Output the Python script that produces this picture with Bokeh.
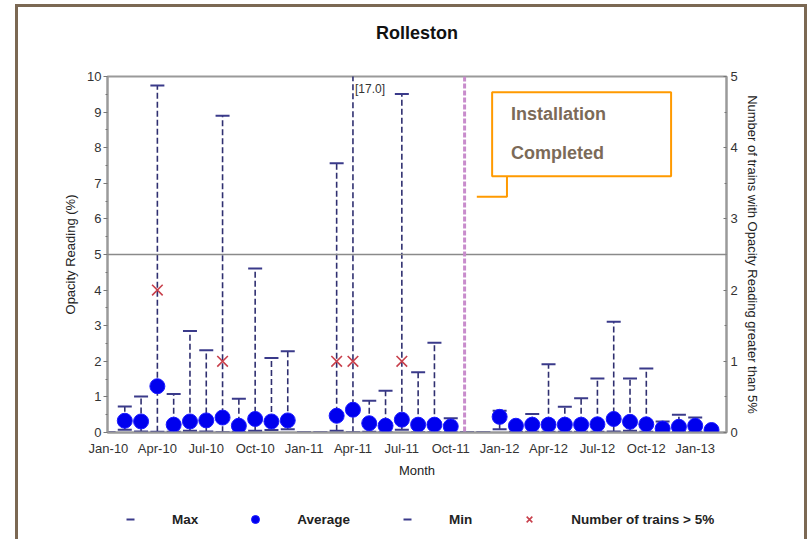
from bokeh.plotting import figure
from bokeh.layouts import column
from bokeh.models import (Range1d, LinearAxis, FixedTicker, Span, BoxAnnotation, Label,
                          Legend, LegendItem, ColumnDataSource, Title)
from bokeh.core.properties import value
from bokeh.embed import file_html
from bokeh.resources import INLINE

FONT = "Liberation Sans"

# Monthly opacity readings at Rolleston (%), None where no trains were recorded
months = ["Jan-10", "Feb-10", "Mar-10", "Apr-10", "May-10", "Jun-10", "Jul-10", "Aug-10",
          "Sep-10", "Oct-10", "Nov-10", "Dec-10", "Jan-11", "Feb-11", "Mar-11", "Apr-11",
          "May-11", "Jun-11", "Jul-11", "Aug-11", "Sep-11", "Oct-11", "Nov-11", "Dec-11",
          "Jan-12", "Feb-12", "Mar-12", "Apr-12", "May-12", "Jun-12", "Jul-12", "Aug-12",
          "Sep-12", "Oct-12", "Nov-12", "Dec-12", "Jan-13", "Feb-13"]
max_reading = [0.0, 0.73, 1.01, 9.75, 1.08, 2.85, 2.31, 8.90, 0.95, 4.61, 2.09, 2.28,
               0.0, 0.0, 7.56, 17.0, 0.89, 1.17, 9.51, 1.69, 2.52, 0.40, 0.0, 0.0,
               0.61, 0.25, 0.52, 1.92, 0.72, 0.96, 1.52, 3.11, 1.52, 1.80, 0.31, 0.50,
               0.42, 0.12]
avg_reading = [None, 0.33, 0.31, 1.30, 0.22, 0.31, 0.34, 0.42, 0.19, 0.38, 0.31, 0.34,
               None, None, 0.47, 0.64, 0.26, 0.19, 0.36, 0.22, 0.22, 0.17, None, None,
               0.44, 0.19, 0.22, 0.22, 0.22, 0.22, 0.23, 0.38, 0.30, 0.23, 0.11, 0.16,
               0.19, 0.07]
min_reading = [0.0, 0.08, 0.03, 0.02, 0.02, 0.05, 0.03, 0.01, 0.02, 0.05, 0.07, 0.09,
               0.0, 0.0, 0.05, 0.01, 0.02, 0.01, 0.08, 0.01, 0.01, 0.01, 0.0, 0.0,
               0.09, 0.02, 0.02, 0.02, 0.02, 0.02, 0.02, 0.03, 0.05, 0.02, 0.01, 0.02,
               0.02, 0.01]
trains_over_5 = [0, 0, 0, 2, 0, 0, 0, 1, 0, 0, 0, 0,
                 0, 0, 1, 1, 0, 0, 1, 0, 0, 0, 0, 0,
                 0, 0, 0, 0, 0, 0, 0, 0, 0, 0, 0, 0,
                 0, 0]
tick_labels = ["Jan-10", "Apr-10", "Jul-10", "Oct-10", "Jan-11", "Apr-11", "Jul-11",
               "Oct-11", "Jan-12", "Apr-12", "Jul-12", "Oct-12", "Jan-13"]
legend_labels = ["Max", "Average", "Min", "Number of trains > 5%"]
installation_month = 21.85   # filter installation completed, early Nov-11

Y_MAX = 10
x = list(range(len(months)))
src = ColumnDataSource(dict(
    x=x, mx=max_reading, mn=min_reading,
    avg=[float("nan") if v is None else v for v in avg_reading],
))
cnt_x = [i for i, c in zip(x, trains_over_5) if c > 0]
cnt_y = [c for c in trains_over_5 if c > 0]

# marker styles shared by the chart and its key
MAX_STYLE = dict(marker="dash", size=14, line_color="#3a3a8a", line_width=2)
MIN_STYLE = dict(marker="dash", size=14, line_color="#3a3a8a", line_width=2)
AVG_STYLE = dict(marker="circle", size=15, fill_color="#0000ee", line_color="#1a1aff", line_width=1)
CNT_STYLE = dict(marker="x", size=15, line_color="#c8404c", line_width=1.6)

chart = figure(width=810, height=500, output_backend="svg", toolbar_location=None,
               x_range=Range1d(-0.06, 37.92), y_range=Range1d(0, Y_MAX),
               min_border_left=107, min_border_right=84, min_border_top=76,
               min_border_bottom=68)
chart.extra_y_ranges = {"trains": Range1d(0, 5)}
chart.background_fill_color = "white"
chart.border_fill_alpha = 0
chart.outline_line_color = "#9a9a9a"
chart.outline_line_width = 2
chart.xgrid.visible = False
chart.ygrid.visible = False

# title, held away from the frame by an empty spacer row
chart.add_layout(Title(text=" ", text_font_size="13px", standoff=17), "above")
chart.add_layout(Title(text="Rolleston", align="center", text_font=FONT,
                       text_font_size="18px", text_font_style="bold",
                       text_color="#111111", standoff=0), "above")

# axes
xa = chart.xaxis[0]
xa.ticker = FixedTicker(ticks=[months.index(t) for t in tick_labels])
xa.major_label_overrides = {months.index(t): t for t in tick_labels}
xa.axis_label = "Month"
xa.major_tick_in = 0
xa.major_tick_out = 0
xa.minor_tick_out = 0
xa.major_label_standoff = 8

ya = chart.yaxis[0]
ya.ticker = FixedTicker(ticks=list(range(0, 11)), minor_ticks=[i + 0.5 for i in range(10)])
ya.axis_label = "Opacity Reading (%)"
ya.major_tick_in = 0
ya.major_tick_out = 4
ya.minor_tick_in = 0
ya.minor_tick_out = 2
ya.major_label_standoff = 2
ya.axis_label_standoff = 6

ra = LinearAxis(y_range_name="trains",
                ticker=FixedTicker(ticks=list(range(0, 6)), minor_ticks=[i + 0.5 for i in range(5)]),
                axis_label="Number of trains with Opacity Reading greater than 5%")
ra.major_tick_in = 3
ra.major_tick_out = 0
ra.minor_tick_in = 2
ra.minor_tick_out = 0
ra.major_label_standoff = 4
ra.axis_label_standoff = 4
chart.add_layout(ra, "right")

for ax in (xa, ya, ra):
    ax.axis_line_color = "#9a9a9a"
    ax.axis_line_width = 2
    ax.major_tick_line_color = "#777777"
    ax.minor_tick_line_color = "#777777"
    ax.major_label_text_font = FONT
    ax.major_label_text_font_size = "13px"
    ax.major_label_text_color = "#333333"
    ax.axis_label_text_font = FONT
    ax.axis_label_text_font_size = "13px"
    ax.axis_label_text_font_style = "normal"
    ax.axis_label_text_color = "#222222"
xa.axis_label_standoff = 4

# 5 % threshold line
chart.add_layout(Span(location=5, dimension="width", line_color="#8a8a8a", line_width=1.5))

# installation marker
chart.add_layout(Span(location=installation_month, dimension="height", line_color="#c88ccc",
                      line_dash="5 2", line_width=3))

# range from min to max for each month
chart.segment(x0="x", y0="mn", x1="x", y1="mx", source=src, line_color="#2f2f70",
              line_dash="6 3", line_width=1.6)
chart.scatter("x", "mx", source=src, **MAX_STYLE)
chart.scatter("x", "mn", source=src, **MIN_STYLE)
chart.scatter("x", "avg", source=src, **AVG_STYLE)
chart.scatter(cnt_x, cnt_y, y_range_name="trains", **CNT_STYLE)

# values that run off the top of the axis
off_x = [i for i, v in zip(x, max_reading) if v > Y_MAX]
off_t = [f"[{v:.1f}]" for v in max_reading if v > Y_MAX]
chart.text(x=off_x, y=[Y_MAX] * len(off_x), text=off_t, x_offset=2, y_offset=5,
           text_baseline="top", text_font=value(FONT), text_font_size="12px",
           text_color="#333333")

# callout box
chart.add_layout(BoxAnnotation(left=23.54, right=34.52, bottom=7.20, top=9.56,
                               fill_color="white", fill_alpha=1.0,
                               line_color="#ff9a00", line_alpha=1.0, line_width=2))
chart.line([24.45, 24.45, 22.6], [7.20, 6.62, 6.62], line_color="#ff9a00", line_width=2)
for txt, yy in (("Installation", 8.96), ("Completed", 7.84)):
    chart.add_layout(Label(x=24.7, y=yy, text=txt, text_baseline="middle",
                           text_font=FONT, text_font_size="18px", text_font_style="bold",
                           text_color="#7b6a58"))

# key row underneath the chart; its sample glyphs sit outside the visible range
key = figure(width=810, height=39, output_backend="svg", toolbar_location=None,
             x_range=Range1d(0, 1), y_range=Range1d(0, 1),
             min_border_left=107, min_border_right=20, min_border_top=0,
             min_border_bottom=0, x_axis_location=None, y_axis_location=None)
key.outline_line_color = None
key.background_fill_alpha = 0
key.border_fill_alpha = 0
key.xgrid.visible = False
key.ygrid.visible = False
key_renderers = [key.scatter([-5], [-5], **s)
                 for s in (MAX_STYLE, AVG_STYLE, MIN_STYLE, CNT_STYLE)]
legend = Legend(items=[LegendItem(label=lab, renderers=[r])
                       for lab, r in zip(legend_labels, key_renderers)],
                orientation="horizontal", location=(13, 10))
legend.border_line_color = None
legend.background_fill_alpha = 0
legend.label_text_font = FONT
legend.label_text_font_size = "13.5px"
legend.label_text_font_style = "bold"
legend.label_text_color = "#222222"
legend.glyph_width = 20
legend.glyph_height = 20
legend.label_standoff = 32
legend.spacing = 47
legend.padding = 5
legend.margin = 0
key.add_layout(legend)

# brown page frame painted behind the transparent plot borders
FRAME = "#7b6853"
bar = f"linear-gradient({FRAME}, {FRAME})"
p = column(chart, key, spacing=0, styles={
    "background-color": "white",
    "background-image": f"{bar}, {bar}, {bar}",
    "background-size": "3px 600px, 792px 3px, 3px 600px",
    "background-position": "15px 4px, 15px 4px, 804px 4px",
    "background-repeat": "no-repeat",
})

open("out.html", "w").write(file_html(p, INLINE))
